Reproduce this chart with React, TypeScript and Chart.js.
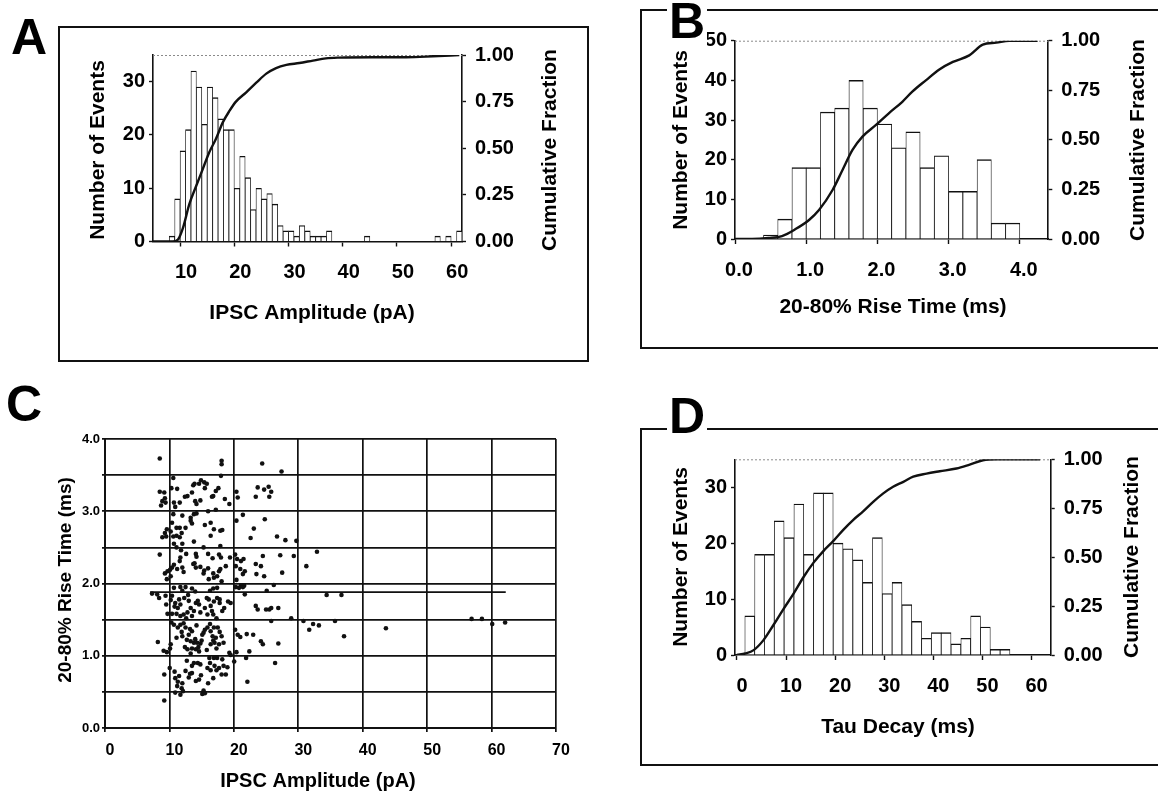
import React, { useEffect, useRef } from "react";
import { Chart, registerables } from "chart.js";

Chart.register(...registerables);

const FONT = "'Liberation Sans', Arial, Helvetica, sans-serif";
const INK = "#111111";

// ---------- Panel A : IPSC amplitude histogram ----------
const ampBinCenters = [8.5, 9.5, 10.5, 11.5, 12.5, 13.5, 14.5, 15.5, 16.5, 17.5, 18.5, 19.5, 20.5, 21.5, 22.5, 23.5, 24.5, 25.5, 26.5, 27.5, 28.5, 29.5, 30.5, 31.5, 32.5, 33.5, 34.5, 35.5, 36.5, 37.5, 44.5, 57.5, 59.5, 61.5];
const ampCounts = [1, 8, 17, 21, 32, 29, 22, 29, 27, 23, 21, 21, 10, 16, 12, 6, 10, 8, 9, 7, 3, 2, 2, 1, 3, 2, 1, 1, 1, 2, 1, 1, 1, 2];
const ampCumX = [5, 8.6, 9.6, 10.5, 11.7, 13.0, 14.2, 15.4, 16.6, 17.9, 19.1, 20.3, 22.2, 24.0, 25.9, 27.7, 29.6, 32.0, 34.5, 36.9, 39.4, 45.5, 51.7, 56.6, 61.5];
const ampCumY = [0, 0, 0.01, 0.07, 0.2, 0.3, 0.39, 0.48, 0.55, 0.64, 0.7, 0.75, 0.8, 0.85, 0.9, 0.93, 0.947, 0.957, 0.97, 0.982, 0.986, 0.988, 0.988, 0.993, 1.0];
const ampXTicks = [10, 20, 30, 40, 50, 60];
const ampXLabels = ["10", "20", "30", "40", "50", "60"];
const countTicks35 = [0, 10, 20, 30];
const countLabels35 = ["0", "10", "20", "30"];

// ---------- Panel B : 20-80% rise time histogram ----------
const riseBinCenters = [0.5, 0.7, 0.9, 1.1, 1.3, 1.5, 1.7, 1.9, 2.1, 2.3, 2.5, 2.7, 2.9, 3.1, 3.3, 3.5, 3.7, 3.9];
const riseCounts = [1, 5, 18, 18, 32, 33, 40, 33, 29, 23, 27, 18, 21, 12, 12, 20, 4, 4];
const riseCumX = [0, 0.24, 0.47, 0.66, 0.85, 1.04, 1.18, 1.37, 1.51, 1.65, 1.79, 1.98, 2.16, 2.35, 2.49, 2.68, 2.87, 3.06, 3.29, 3.48, 3.67, 3.85, 4.25];
const riseCumY = [0, 0, 0.005, 0.015, 0.05, 0.096, 0.146, 0.247, 0.348, 0.449, 0.516, 0.575, 0.634, 0.692, 0.743, 0.8, 0.855, 0.893, 0.926, 0.98, 0.99, 1.0, 1.0];
const riseXTicks = [0, 1, 2, 3, 4];
const riseXLabels = ["0.0", "1.0", "2.0", "3.0", "4.0"];
const countTicks50 = [0, 10, 20, 30, 40, 50];
const countLabels50 = ["0", "10", "20", "30", "40", "50"];

// ---------- Panel D : tau decay histogram ----------
const tauBinCenters = [2.6, 4.6, 6.6, 8.6, 10.6, 12.6, 14.6, 16.6, 18.6, 20.6, 22.6, 24.6, 26.6, 28.6, 30.6, 32.6, 34.6, 36.6, 38.6, 40.6, 42.6, 44.6, 46.6, 48.6, 50.6, 52.6, 54.6];
const tauCounts = [7, 18, 18, 24, 21, 27, 18, 29, 29, 20, 19, 17, 13, 21, 11, 13, 9, 6, 3, 4, 4, 2, 3, 7, 5, 1, 1];
const tauCumX = [0, 1.7, 3.4, 5.4, 7.4, 9.5, 11.5, 13.5, 15.6, 17.6, 19.6, 21.7, 23.7, 25.7, 27.8, 29.8, 31.8, 33.9, 35.9, 38.6, 41.3, 44.7, 47.4, 50.1, 52.8, 61.7];
const tauCumY = [0, 0.008, 0.025, 0.076, 0.152, 0.236, 0.312, 0.396, 0.472, 0.531, 0.582, 0.641, 0.691, 0.734, 0.784, 0.826, 0.86, 0.885, 0.911, 0.927, 0.939, 0.953, 0.973, 0.995, 1.0, 1.0];
const tauXTicks = [0, 10, 20, 30, 40, 50, 60];
const tauXLabels = ["0", "10", "20", "30", "40", "50", "60"];

// shared cumulative-fraction axis
const fracTicks = [0, 0.25, 0.5, 0.75, 1];
const fracLabels = ["0.00", "0.25", "0.50", "0.75", "1.00"];

// ---------- Panel C : rise time vs amplitude scatter ----------
const riseAmpPoints: [number, number][] = [
  [8.5, 3.73], [18.1, 3.7], [18.1, 3.65], [24.4, 3.66], [27.4, 3.55],
  [10.6, 3.46], [8.5, 3.27], [9.2, 3.26], [10.3, 3.32], [11.2, 3.31], [8.9, 3.14], [9.4, 3.12], [8.7, 3.08], [10.7, 3.12], [11.6, 3.12], [12.8, 3.21], [13.5, 3.26], [13.9, 3.38], [14.6, 3.38], [15.4, 3.4], [15.8, 3.38], [14.0, 3.14], [14.8, 3.15], [16.8, 3.21], [17.6, 3.32], [18.0, 3.49], [18.6, 3.17], [19.3, 3.1], [20.4, 3.27], [20.6, 3.19], [23.4, 3.2], [23.7, 3.33], [24.7, 3.3], [25.4, 3.34], [25.8, 3.27], [25.5, 3.2],
  [13.7, 3.36], [14.9, 3.43], [15.5, 3.32], [12.4, 3.2], [14.2, 3.1], [16.6, 3.2], [17.2, 3.28], [9.3, 3.18], [10.9, 3.06],
  [10.6, 2.96], [12.0, 2.94], [13.3, 2.91], [13.8, 2.96], [14.2, 2.97], [13.3, 2.87], [13.5, 2.83], [10.4, 2.84], [11.1, 2.77], [11.6, 2.77], [12.5, 2.77], [9.6, 2.75], [9.5, 2.65], [8.9, 2.64], [10.6, 2.65], [11.1, 2.66], [11.6, 2.64], [10.7, 2.55], [11.1, 2.5], [12.0, 2.55], [13.8, 2.58], [15.5, 2.81], [16.4, 2.84], [16.9, 2.75], [16.4, 2.66], [16.0, 3.0], [17.2, 3.02], [17.9, 2.73], [18.2, 2.74], [17.9, 2.52], [20.4, 2.87], [21.4, 2.95], [23.1, 2.76], [22.6, 2.63], [24.8, 2.89], [26.7, 2.65], [28.0, 2.6], [29.7, 2.59], [9.3, 2.7], [10.2, 2.72], [11.9, 2.7],
  [8.5, 2.4], [11.8, 2.46], [12.6, 2.41], [11.7, 2.36], [11.6, 2.31], [14.1, 2.41], [14.2, 2.37], [13.7, 2.27], [14.1, 2.22], [14.8, 2.23], [15.4, 2.18], [16.0, 2.21], [15.3, 2.5], [16.0, 2.41], [16.7, 2.35], [17.7, 2.4], [18.0, 2.36], [9.7, 2.17], [10.4, 2.22], [11.2, 2.2], [12.0, 2.22], [10.2, 2.1], [9.6, 2.06], [16.1, 2.06], [16.9, 2.08], [17.7, 2.17], [17.4, 2.1], [18.75, 2.24], [19.4, 2.36], [20.2, 2.4], [20.5, 2.34], [20.3, 2.24], [21.1, 2.31], [21.5, 2.34], [21.0, 2.2], [21.4, 2.13], [21.7, 2.17], [23.4, 2.27], [24.2, 2.24], [24.5, 2.38], [24.7, 2.1], [23.5, 2.13], [27.2, 2.39], [27.5, 2.15], [29.3, 2.38], [31.25, 2.24], [32.9, 2.44], [20.4, 2.05], [21.1, 1.97], [21.6, 1.97], [26.2, 1.98],
  [13.9, 2.28], [12.2, 2.16], [15.3, 2.14], [16.8, 2.14], [17.9, 2.2], [18.1, 2.03], [9.3, 2.14], [10.1, 2.19], [10.7, 2.26],
  [7.3, 1.86], [8.1, 1.85], [9.4, 1.83], [10.4, 1.83], [11.5, 1.78], [10.9, 1.73], [11.7, 1.71], [11.3, 1.66], [9.5, 1.71], [9.7, 1.58], [10.4, 1.58], [11.1, 1.58], [11.7, 1.55], [12.2, 1.57], [13.0, 1.76], [13.3, 1.66], [14.1, 1.73], [14.6, 1.71], [12.8, 1.6], [13.5, 1.55], [15.5, 1.66], [16.1, 1.78], [16.4, 1.69], [15.9, 1.57], [16.8, 1.57], [17.4, 1.8], [17.8, 1.73], [18.5, 1.66], [19.1, 1.75], [19.5, 1.73], [10.7, 1.94], [11.7, 1.95], [12.5, 1.95], [13.5, 1.93], [16.8, 1.93], [17.4, 1.94], [20.3, 1.95], [20.8, 1.94], [21.4, 1.95], [21.7, 1.85], [23.4, 1.69], [23.7, 1.64], [25.0, 1.64], [25.5, 1.64], [25.8, 1.66], [25.1, 1.9], [26.9, 1.66], [25.8, 1.48], [28.9, 1.52], [34.4, 1.84], [36.7, 1.84], [10.3, 1.46], [10.7, 1.43], [11.3, 1.39], [11.7, 1.43],
  [12.0, 1.9], [14.0, 1.89], [16.3, 1.9], [12.3, 1.8], [12.9, 1.84], [14.4, 1.76], [13.8, 1.62], [12.6, 1.52], [15.8, 1.8], [16.9, 1.75], [17.8, 1.78], [16.6, 1.62], [18.2, 1.62], [14.8, 1.6], [17.3, 1.52], [8.4, 1.8], [10.2, 1.77], [10.8, 1.68],
  [8.2, 1.19], [9.1, 1.07], [9.6, 1.05], [10.2, 1.16], [11.1, 1.25], [12.0, 1.27], [12.5, 1.39], [13.0, 1.29], [13.5, 1.34], [13.3, 1.2], [13.8, 1.18], [14.3, 1.18], [14.8, 1.17], [14.1, 1.09], [14.6, 1.06], [15.1, 1.29], [15.5, 1.36], [15.9, 1.39], [16.4, 1.34], [16.9, 1.39], [17.5, 1.39], [16.7, 1.27], [17.2, 1.25], [16.4, 1.16], [17.0, 1.18], [17.7, 1.16], [18.4, 1.18], [16.2, 0.97], [16.9, 0.97], [17.4, 0.97], [12.8, 1.09], [13.3, 1.03], [20.2, 1.36], [20.6, 1.29], [21.0, 1.26], [22.0, 1.3], [23.0, 1.29], [24.2, 1.2], [24.5, 1.16], [26.9, 1.17], [22.4, 1.06], [19.3, 1.04], [19.5, 1.01], [20.4, 1.05], [20.05, 0.92], [21.9, 0.97], [26.4, 0.9], [30.8, 1.48], [31.7, 1.36], [32.3, 1.44], [33.2, 1.42], [35.7, 1.48], [37.1, 1.27], [43.6, 1.38],
  [12.2, 1.45], [13.2, 1.37], [14.2, 1.42], [15.3, 1.32], [16.3, 1.44], [17.8, 1.33], [12.7, 1.22], [14.0, 1.23], [15.0, 1.21], [16.8, 1.21], [18.1, 1.27], [12.4, 1.12], [13.5, 1.1], [14.5, 1.12], [15.8, 1.08], [17.3, 1.1], [11.9, 1.33], [10.1, 1.1],
  [9.2, 0.74], [10.05, 0.83], [10.9, 0.69], [11.3, 0.64], [12.0, 0.62], [11.2, 0.58], [12.5, 0.79], [13.2, 0.75], [13.5, 0.76], [13.8, 0.9], [14.4, 0.9], [14.1, 0.65], [14.6, 0.67], [15.9, 0.83], [16.4, 0.8], [17.0, 0.86], [17.7, 0.83], [18.4, 0.86], [19.0, 0.84], [18.1, 0.74], [18.75, 0.74], [16.0, 0.62], [22.1, 0.64], [10.9, 0.49], [11.7, 0.46], [12.1, 0.51], [15.1, 0.47], [15.5, 0.48], [9.2, 0.38],
  [12.7, 0.93], [13.5, 0.86], [14.8, 0.88], [16.3, 0.9], [17.3, 0.8], [18.2, 0.95], [13.0, 0.7], [14.9, 0.73], [16.8, 0.69], [11.9, 0.55], [15.3, 0.52], [10.8, 0.78], [11.5, 0.72],
  [56.9, 1.51], [58.5, 1.51], [60.1, 1.44], [62.1, 1.46],
];
const regressionX = [7, 62.2];
const regressionY = [1.88, 1.88];
const scatterXTicks = [0, 10, 20, 30, 40, 50, 60, 70];
const scatterXLabels = ["0", "10", "20", "30", "40", "50", "60", "70"];
const scatterYTicks = [0, 0.5, 1, 1.5, 2, 2.5, 3, 3.5, 4];
const scatterYLabels = ["0.0", "", "1.0", "", "2.0", "", "3.0", "", "4.0"];

type Rect = { left: number; top: number; width: number; height: number };
type Area = { left: number; top: number; right: number; bottom: number };
type Txt = { text: string; x: number; y: number; rot?: number; size: number };

function textPlugin(items: Txt[], cv: Rect, dotted: boolean) {
  return {
    id: "panelText",
    beforeDatasetsDraw(chart: any) {
      if (!dotted) return;
      const ctx = chart.ctx;
      const a = chart.chartArea;
      ctx.save();
      ctx.strokeStyle = "#8a8a8a";
      ctx.lineWidth = 1;
      ctx.setLineDash([2, 2]);
      ctx.beginPath();
      ctx.moveTo(a.left, a.top + 0.5);
      ctx.lineTo(a.right, a.top + 0.5);
      ctx.stroke();
      ctx.restore();
    },
    afterDraw(chart: any) {
      const ctx = chart.ctx;
      for (const t of items) {
        ctx.save();
        ctx.translate(t.x - cv.left, t.y - cv.top);
        if (t.rot) ctx.rotate((t.rot * Math.PI) / 180);
        ctx.font = `bold ${t.size}px ${FONT}`;
        ctx.fillStyle = "#000";
        ctx.textAlign = "center";
        ctx.textBaseline = "middle";
        ctx.fillText(t.text, 0, 0);
        ctx.restore();
      }
    },
  };
}

type HistSpec = {
  canvas: Rect;
  area: Area;
  xMin: number;
  xMax: number;
  xTicks: number[];
  xLabels: string[];
  xLabelOffset: number;
  yMax: number;
  yTicks: number[];
  yLabels: string[];
  centers: number[];
  counts: number[];
  cumX: number[];
  cumY: number[];
  titles: Txt[];
};

function makeHist(el: HTMLCanvasElement, s: HistSpec) {
  const cv = s.canvas;
  const aL = s.area.left - cv.left;
  const aR = s.area.right - cv.left;
  const aT = s.area.top - cv.top;
  const aB = s.area.bottom - cv.top;
  const tickFont = { family: FONT, size: 20, weight: "bold" as const };
  return new Chart(el, {
    type: "bar",
    data: {
      datasets: [
        {
          type: "line",
          data: s.cumX.map((x, i) => ({ x, y: s.cumY[i] })),
          xAxisID: "x",
          yAxisID: "y2",
          borderColor: INK,
          borderWidth: 2.4,
          pointRadius: 0,
          fill: false,
          cubicInterpolationMode: "monotone",
          order: 0,
        } as any,
        {
          type: "bar",
          data: s.centers.map((x, i) => ({ x, y: s.counts[i] })),
          xAxisID: "x",
          yAxisID: "y",
          backgroundColor: "#ffffff",
          borderColor: INK,
          borderWidth: { top: 1.4, left: 0.8, right: 0.8, bottom: 0 },
          barPercentage: 1,
          categoryPercentage: 1,
          order: 1,
        } as any,
      ],
    },
    options: {
      animation: false,
      responsive: false,
      events: [],
      layout: { padding: { left: 0, top: aT, right: 0, bottom: 0 } },
      plugins: { legend: { display: false }, tooltip: { enabled: false } },
      scales: {
        x: {
          type: "linear",
          min: s.xMin,
          max: s.xMax,
          offset: false,
          afterFit: (sc: any) => {
            sc.height = cv.height - aB;
          },
          afterBuildTicks: (sc: any) => {
            sc.ticks = s.xTicks.map((v) => ({ value: v }));
          },
          ticks: {
            callback: (_v: any, i: number) => s.xLabels[i],
            font: tickFont,
            color: "#000",
            padding: 14,
            labelOffset: s.xLabelOffset,
            maxRotation: 0,
            autoSkip: false,
          },
          grid: { drawOnChartArea: false, drawTicks: true, tickLength: 5, tickColor: INK, tickWidth: 1.4, offset: false },
          border: { color: INK, width: 1.6 },
        },
        y: {
          type: "linear",
          position: "left",
          min: 0,
          max: s.yMax,
          afterFit: (sc: any) => {
            sc.width = aL;
          },
          afterBuildTicks: (sc: any) => {
            sc.ticks = s.yTicks.map((v) => ({ value: v }));
          },
          ticks: { callback: (_v: any, i: number) => s.yLabels[i], font: tickFont, color: "#000", padding: 4 },
          grid: { drawOnChartArea: false, drawTicks: true, tickLength: 4, tickColor: INK, tickWidth: 1.4 },
          border: { color: INK, width: 1.6 },
        },
        y2: {
          type: "linear",
          position: "right",
          min: 0,
          max: 1,
          afterFit: (sc: any) => {
            sc.width = cv.width - aR;
          },
          afterBuildTicks: (sc: any) => {
            sc.ticks = fracTicks.map((v) => ({ value: v }));
          },
          ticks: { callback: (_v: any, i: number) => fracLabels[i], font: tickFont, color: "#000", padding: 9 },
          grid: { drawOnChartArea: false, drawTicks: true, tickLength: 4, tickColor: INK, tickWidth: 1.4 },
          border: { color: INK, width: 1.6 },
        },
      },
    } as any,
    plugins: [textPlugin(s.titles, cv, true)],
  });
}

function makeScatter(el: HTMLCanvasElement, cv: Rect, area: Area, titles: Txt[]) {
  const aR = area.right - cv.left;
  const aT = area.top - cv.top;
  const aB = area.bottom - cv.top;
  const aL = area.left - cv.left;
  return new Chart(el, {
    type: "scatter",
    data: {
      datasets: [
        {
          data: regressionX.map((x, i) => ({ x, y: regressionY[i] })),
          showLine: true,
          borderColor: INK,
          borderWidth: 1.8,
          pointRadius: 0,
          order: 0,
        } as any,
        {
          data: riseAmpPoints.map(([x, y]) => ({ x, y })),
          showLine: false,
          pointRadius: 2.3,
          pointBackgroundColor: INK,
          pointBorderWidth: 0,
          order: 1,
        } as any,
      ],
    },
    options: {
      animation: false,
      responsive: false,
      events: [],
      layout: { padding: { left: 0, top: aT, right: cv.width - aR, bottom: 0 } },
      plugins: { legend: { display: false }, tooltip: { enabled: false } },
      scales: {
        x: {
          type: "linear",
          min: 0,
          max: 70,
          afterFit: (sc: any) => {
            sc.height = cv.height - aB;
          },
          afterBuildTicks: (sc: any) => {
            sc.ticks = scatterXTicks.map((v) => ({ value: v }));
          },
          ticks: {
            callback: (_v: any, i: number) => scatterXLabels[i],
            font: { family: FONT, size: 16, weight: "bold" },
            color: "#000",
            padding: 9,
            labelOffset: 5,
            maxRotation: 0,
            autoSkip: false,
          },
          grid: { color: INK, lineWidth: 1.7, tickLength: 4, tickColor: INK },
          border: { color: INK, width: 2 },
        },
        y: {
          type: "linear",
          min: 0,
          max: 4,
          afterFit: (sc: any) => {
            sc.width = aL;
          },
          afterBuildTicks: (sc: any) => {
            sc.ticks = scatterYTicks.map((v) => ({ value: v }));
          },
          ticks: {
            callback: (_v: any, i: number) => scatterYLabels[i],
            font: { family: FONT, size: 13, weight: "bold" },
            color: "#000",
            padding: 2,
            autoSkip: false,
          },
          grid: { color: INK, lineWidth: 1.7, tickLength: 3, tickColor: INK },
          border: { color: INK, width: 2 },
        },
      },
    } as any,
    plugins: [textPlugin(titles, cv, false)],
  });
}

const canvasA: Rect = { left: 59, top: 27, width: 529, height: 334 };
const canvasB: Rect = { left: 641, top: 10, width: 517, height: 338 };
const canvasC: Rect = { left: 0, top: 395, width: 580, height: 398 };
const canvasD: Rect = { left: 641, top: 429, width: 517, height: 336 };

const specA: HistSpec = {
  canvas: canvasA,
  area: { left: 153, top: 55, right: 462, bottom: 241.5 },
  xMin: 5,
  xMax: 62,
  xTicks: ampXTicks,
  xLabels: ampXLabels,
  xLabelOffset: 6,
  yMax: 35,
  yTicks: countTicks35,
  yLabels: countLabels35,
  centers: ampBinCenters,
  counts: ampCounts,
  cumX: ampCumX,
  cumY: ampCumY,
  titles: [
    { text: "IPSC Amplitude (pA)", x: 312, y: 313, size: 21 },
    { text: "Number of Events", x: 98, y: 150, rot: -90, size: 21 },
    { text: "Cumulative Fraction", x: 550, y: 150, rot: -90, size: 21 },
  ],
};

const specB: HistSpec = {
  canvas: canvasB,
  area: { left: 735, top: 40.7, right: 1048.3, bottom: 239 },
  xMin: 0,
  xMax: 4.4,
  xTicks: riseXTicks,
  xLabels: riseXLabels,
  xLabelOffset: 4,
  yMax: 50,
  yTicks: countTicks50,
  yLabels: countLabels50,
  centers: riseBinCenters,
  counts: riseCounts,
  cumX: riseCumX,
  cumY: riseCumY,
  titles: [
    { text: "20-80% Rise Time (ms)", x: 893, y: 307, size: 21 },
    { text: "Number of Events", x: 681, y: 140, rot: -90, size: 21 },
    { text: "Cumulative Fraction", x: 1138, y: 140, rot: -90, size: 21 },
  ],
};

const specD: HistSpec = {
  canvas: canvasD,
  area: { left: 735, top: 459.3, right: 1050.7, bottom: 655 },
  xMin: -0.4,
  xMax: 63.9,
  xTicks: tauXTicks,
  xLabels: tauXLabels,
  xLabelOffset: 5,
  yMax: 35,
  yTicks: countTicks35,
  yLabels: countLabels35,
  centers: tauBinCenters,
  counts: tauCounts,
  cumX: tauCumX,
  cumY: tauCumY,
  titles: [
    { text: "Tau Decay (ms)", x: 898, y: 727, size: 21 },
    { text: "Number of Events", x: 681, y: 557, rot: -90, size: 21 },
    { text: "Cumulative Fraction", x: 1132, y: 557, rot: -90, size: 21 },
  ],
};

const areaC: Area = { left: 105, top: 439, right: 556, bottom: 728 };
const titlesC: Txt[] = [
  { text: "IPSC Amplitude (pA)", x: 318, y: 781, size: 20 },
  { text: "20-80% Rise Time (ms)", x: 66, y: 580, rot: -90, size: 19 },
];

const boxes: Rect[] = [
  { left: 58, top: 26, width: 531, height: 336 },
  { left: 640, top: 9, width: 560, height: 340 },
  { left: 640, top: 428, width: 560, height: 338 },
];

const letters = [
  { text: "A", left: 9, top: 12 },
  { text: "B", left: 667, top: -4 },
  { text: "C", left: 4, top: 379 },
  { text: "D", left: 667, top: 391 },
];

function cstyle(r: Rect): React.CSSProperties {
  return { position: "absolute", left: r.left, top: r.top, width: r.width, height: r.height };
}

export default function App() {
  const refA = useRef<HTMLCanvasElement>(null);
  const refB = useRef<HTMLCanvasElement>(null);
  const refC = useRef<HTMLCanvasElement>(null);
  const refD = useRef<HTMLCanvasElement>(null);

  useEffect(() => {
    const charts: Chart[] = [];
    if (refA.current) charts.push(makeHist(refA.current, specA));
    if (refB.current) charts.push(makeHist(refB.current, specB));
    if (refD.current) charts.push(makeHist(refD.current, specD));
    if (refC.current) charts.push(makeScatter(refC.current, canvasC, areaC, titlesC));
    return () => charts.forEach((c) => c.destroy());
  }, []);

  return (
    <div
      style={{
        position: "absolute",
        left: 0,
        top: 0,
        width: 1158,
        height: 793,
        background: "#fff",
        overflow: "hidden",
        fontFamily: FONT,
      }}
    >
      {boxes.map((b, i) => (
        <div
          key={"box" + i}
          style={{ ...cstyle(b), boxSizing: "border-box", border: `2px solid ${INK}` }}
        />
      ))}
      <canvas ref={refA} width={canvasA.width} height={canvasA.height} style={cstyle(canvasA)} />
      <canvas ref={refB} width={canvasB.width} height={canvasB.height} style={cstyle(canvasB)} />
      <canvas ref={refC} width={canvasC.width} height={canvasC.height} style={cstyle(canvasC)} />
      <canvas ref={refD} width={canvasD.width} height={canvasD.height} style={cstyle(canvasD)} />
      {letters.map((l) => (
        <div
          key={l.text}
          style={{
            position: "absolute",
            left: l.left,
            top: l.top,
            fontSize: 50,
            lineHeight: "50px",
            fontWeight: "bold",
            color: "#000",
            background: "#fff",
            padding: "0 2px",
          }}
        >
          {l.text}
        </div>
      ))}
    </div>
  );
}
